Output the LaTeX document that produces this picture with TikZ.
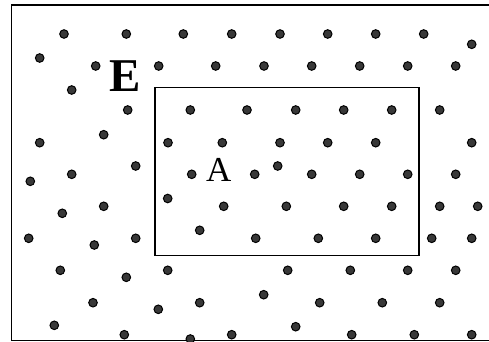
\documentclass[tikz,border=0pt]{standalone}
\usepackage{fontspec}
\setmainfont{Liberation Serif}
\begin{document}
\begin{tikzpicture}[x=1pt,y=-1pt,
  dot/.style={circle,draw=black,fill=black!78,line width=1pt,inner sep=0pt,minimum size=8.6pt},
  frame/.style={line width=1.3pt},
  region/.style={draw,line width=1.6pt}]
\useasboundingbox (0,0) rectangle (489,342);
\draw[frame] (489,5) -- (11.5,5) -- (11.5,340.5) -- (489,340.5);
\draw[region] (155,87.7) rectangle (419,255.3);
\foreach \i/\x/\y in {
 1/64/34, 2/126.3/34, 3/183.3/34, 4/231.7/34, 5/280/34, 6/327.7/34, 7/375.7/34, 8/423.7/34,
 9/471.7/44.3, 10/39.7/58,
 11/95.7/66, 12/158.7/66, 13/215.7/66, 14/264/66, 15/311.7/66, 16/359.7/66, 17/407.7/66, 18/455.7/66,
 19/71.7/90,
 20/127.7/110, 21/190.3/110, 22/247/110, 23/295.7/110, 24/343.7/110, 25/391.7/110, 26/439.7/110,
 27/103.7/134.7,
 28/39.7/142.7, 29/168/142.7, 30/222.3/142.7, 31/280/142.7, 32/327.7/142.7, 33/375.7/142.7, 34/471.7/142.7,
 35/135.7/166, 36/277.7/166,
 37/71.7/174.3, 38/191.7/174.3, 39/254.7/174.3, 40/311.7/174.3, 41/359.7/174.3, 42/407.7/174.3, 43/455.7/174.3,
 44/30.3/181.3, 45/167.7/198.5,
 46/103.7/206.3, 47/223.7/206.3, 48/286.3/206.3, 49/343.7/206.3, 50/391.7/206.3, 51/439.7/206.3, 52/477.7/206.3,
 53/62.3/213.3, 54/199.7/230.3,
 55/28.7/238.3, 56/135.7/238.3, 57/255.7/238.3, 58/318.3/238.3, 59/375.7/238.3, 60/431.7/238.3, 61/471.7/238.3,
 62/94.3/245,
 63/60.3/270.3, 64/167.7/270.3, 65/287.7/270.3, 66/350.3/270.3, 67/407.7/270.3, 68/455.7/270.3,
 69/126.3/277.3, 70/263.7/294.7,
 71/93/302.7, 72/199.7/302.7, 73/319.7/302.7, 74/382.3/302.7, 75/439.7/302.7,
 76/158.3/309.3, 77/54.3/325.3, 78/295.7/326.7,
 79/124.3/334.7, 80/231.7/334.7, 81/351.7/334.7, 82/414.3/334.7, 83/471.7/334.7,
 84/190.3/339}
  \node[dot] (d\i) at (\x,\y) {};
\node[font=\fontsize{47}{47}\selectfont\bfseries,inner sep=0pt] (E) at (125.3,75.8) {E};
\node[font=\fontsize{35}{35}\selectfont,inner sep=0pt] (A) at (218.8,170) {A};
\end{tikzpicture}
\end{document}
